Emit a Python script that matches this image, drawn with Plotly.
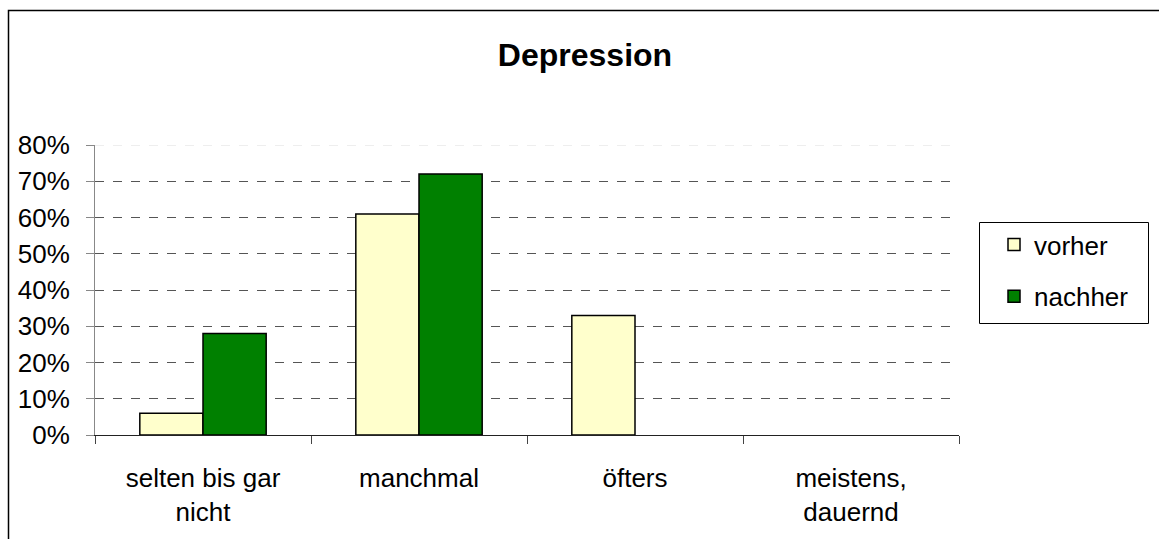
import plotly.graph_objects as go

categories = ["selten bis gar<br>nicht", "manchmal", "öfters", "meistens,<br>dauernd"]
series_names = ["vorher", "nachher"]
vorher = [0.06, 0.61, 0.33, 0.0]
nachher = [0.28, 0.72, 0.0, 0.0]
colors = ["#FFFFCC", "#008000"]
y_max = 0.8

W, H = 1159, 539
L, R, T, B = 95, 200, 145, 104
pw, ph = W - L - R, H - T - B

def px_x(p):
    return (p - L) / pw

def px_y(p):
    return (H - B - p) / ph

fig = go.Figure()
for name, vals, col in zip(series_names, [vorher, nachher], colors):
    fig.add_trace(go.Bar(
        x=categories, y=vals, name=name, legendgroup=name,
        marker=dict(color=col,
                    line=dict(color="black",
                              width=[1.5 if v > 0 else 0 for v in vals])),
    ))

fnt = "Liberation Sans, Arial, Helvetica, sans-serif"
fs = 26
fig.update_layout(
    width=W, height=H,
    margin=dict(l=L, r=R, t=T, b=B),
    paper_bgcolor="white", plot_bgcolor="white",
    barmode="group", bargap=0.415, bargroupgap=0,
    font=dict(family=fnt, size=fs, color="black"),
    title=dict(text="<b>Depression</b>", x=585 / W, xanchor="center",
               y=1 - 55 / H, yanchor="middle",
               font=dict(size=32, family=fnt, color="black")),
    legend=dict(x=px_x(994), y=px_y(221), xanchor="left", yanchor="top",
                borderwidth=0, bgcolor="rgba(0,0,0,0)",
                font=dict(size=fs), tracegroupgap=15,
                traceorder="grouped", entrywidth=140, entrywidthmode="pixels"),
    xaxis=dict(showline=True, linecolor="#222222", linewidth=1,
               ticks="outside", tickson="boundaries", ticklen=8,
               tickcolor="#444444", showgrid=False,
               tickfont=dict(size=fs), ticklabelstandoff=20),
    yaxis=dict(range=[0, y_max], dtick=0.1, tickformat=".0%",
               showline=True, linecolor="#888888", linewidth=1,
               ticks="outside", ticklen=8, tickcolor="#888888",
               showgrid=True, gridcolor="#555555", griddash="dash", gridwidth=1,
               zeroline=False, tickfont=dict(size=fs), ticklabelstandoff=11),
    shapes=[
        dict(type="rect", xref="paper", yref="paper",
             x0=px_x(8.5), x1=px_x(W + 20), y0=px_y(H + 20), y1=px_y(10.5),
             line=dict(color="black", width=1.5), layer="below"),
        dict(type="rect", xref="paper", yref="paper",
             x0=px_x(979.5), x1=px_x(1148.5), y0=px_y(323.5), y1=px_y(222.5),
             line=dict(color="black", width=1), fillcolor="white", layer="below"),
        dict(type="line", xref="paper", yref="y", x0=0, x1=1, y0=y_max, y1=y_max,
             line=dict(color="#DDDDDD", width=1, dash="dash"), layer="below"),
    ],
)

fig.write_html("out.html")
